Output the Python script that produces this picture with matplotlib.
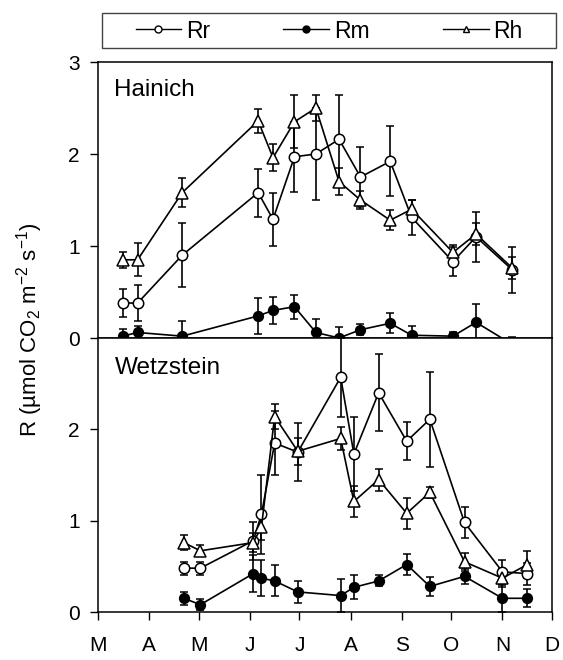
import matplotlib
matplotlib.use("Agg")
import matplotlib.pyplot as plt
from matplotlib.lines import Line2D
from matplotlib.patches import Rectangle

plt.rcParams['font.family'] = ['Liberation Sans', 'DejaVu Sans']
plt.rcParams['mathtext.fontset'] = 'custom'
plt.rcParams['mathtext.rm'] = 'Liberation Sans'

# ---- data (day of year) ----
month_days = [60, 91, 121, 152, 182, 213, 244, 274, 305, 335]
month_labels = ['M', 'A', 'M', 'J', 'J', 'A', 'S', 'O', 'N', 'D']

hai_day = [75, 84, 111, 157, 166, 179, 192, 206, 219, 237, 250, 275, 289, 311]
hai_rr = [0.38, 0.38, 0.90, 1.58, 1.29, 1.97, 2.00, 2.16, 1.75, 1.92, 1.31, 0.83, 1.10, 0.74]
hai_rr_err = [0.155, 0.195, 0.35, 0.26, 0.29, 0.38, 0.50, 0.48, 0.33, 0.38, 0.19, 0.16, 0.27, 0.25]
hai_rm = [0.02, 0.06, 0.02, 0.24, 0.30, 0.34, 0.06, 0.00, 0.09, 0.16, 0.03, 0.02, 0.17, -0.07]
hai_rm_err = [0.08, 0.07, 0.16, 0.20, 0.15, 0.13, 0.15, 0.12, 0.06, 0.11, 0.10, 0.05, 0.20, 0.08]
hai_rh = [0.85, 0.85, 1.58, 2.36, 1.96, 2.35, 2.50, 1.70, 1.50, 1.28, 1.40, 0.93, 1.13, 0.76]
hai_rh_err = [0.09, 0.18, 0.16, 0.13, 0.15, 0.29, 0.14, 0.15, 0.10, 0.11, 0.10, 0.08, 0.12, 0.12]

wet_day = [112, 122, 154, 159, 167, 181, 207, 215, 230, 247, 261, 282, 305, 320]
wet_rr = [0.48, 0.48, 0.78, 1.07, 1.85, 1.75, 2.57, 1.73, 2.40, 1.87, 2.11, 0.98, 0.44, 0.42]
wet_rr_err = [0.07, 0.07, 0.21, 0.43, 0.35, 0.32, 0.43, 0.40, 0.42, 0.21, 0.52, 0.17, 0.13, 0.12]
wet_rm = [0.15, 0.08, 0.42, 0.37, 0.34, 0.22, 0.18, 0.27, 0.34, 0.52, 0.28, 0.39, 0.15, 0.15]
wet_rm_err = [0.07, 0.06, 0.20, 0.20, 0.17, 0.12, 0.18, 0.13, 0.06, 0.11, 0.10, 0.08, 0.15, 0.10]
wet_rh = [0.76, 0.67, 0.76, 0.93, 2.14, 1.76, 1.90, 1.21, 1.45, 1.08, 1.31, 0.55, 0.37, 0.52]
wet_rh_err = [0.08, 0.06, 0.10, 0.14, 0.14, 0.15, 0.13, 0.17, 0.12, 0.17, 0.06, 0.10, 0.10, 0.15]

series_labels = ['Rr', 'Rm', 'Rh']

FS = 15
fig = plt.figure(figsize=(5.63, 6.6), dpi=100)
ax1 = fig.add_axes([98/563, 1-338/660, 454/563, 276/660])
ax2 = fig.add_axes([98/563, 1-612/660, 454/563, 274/660])

styles = [
    dict(marker='o', mfc='white', mec='black', ms=7.5),
    dict(marker='o', mfc='black', mec='black', ms=7),
    dict(marker='^', mfc='white', mec='black', ms=8),
]

def draw(ax, day, vals, errs):
    for v, e, st in zip(vals, errs, styles):
        ax.errorbar(day, v, yerr=e, color='black', lw=1.2, elinewidth=1.2,
                    capsize=3, capthick=1.2, mew=1.1, **st)

draw(ax1, hai_day, [hai_rr, hai_rm, hai_rh], [hai_rr_err, hai_rm_err, hai_rh_err])
draw(ax2, wet_day, [wet_rr, wet_rm, wet_rh], [wet_rr_err, wet_rm_err, wet_rh_err])

for ax in (ax1, ax2):
    ax.set_xlim(month_days[0], month_days[-1])
    ax.set_ylim(0, 3)
    for s in ax.spines.values():
        s.set_linewidth(1.1)
    ax.tick_params(axis='y', direction='out', length=6, width=1, pad=7, labelsize=FS)

ax1.set_yticks([0, 1, 2, 3])
ax2.set_yticks([0, 1, 2])
ax1.set_xticks(month_days)
ax1.tick_params(axis='x', bottom=False, labelbottom=False)
ax2.set_xticks(month_days)
ax2.set_xticklabels(month_labels)
ax2.tick_params(axis='x', direction='out', length=6, width=1, pad=11, labelsize=FS)

ax1.text(0.035, 0.90, 'Hainich', transform=ax1.transAxes, fontsize=17.5,
         ha='left', va='center')
ax2.text(0.038, 0.89, 'Wetzstein', transform=ax2.transAxes, fontsize=17.5,
         ha='left', va='center')

fig.text(30/563, 1-330/660,
         r'R (µmol CO$_\mathregular{2}$ m$^\mathregular{-2}$ s$^\mathregular{-1}$)',
         rotation=90, ha='center', va='center', fontsize=16)

# legend
handles = [Line2D([], [], color='black', lw=1, marker=st['marker'],
                  mfc=st['mfc'], mec='black', ms=5) for st in styles]
fig.add_artist(Rectangle((102/563, 1-48.3/660), 454/563, 35/660,
                         transform=fig.transFigure, fill=False,
                         edgecolor='#444444', lw=1))
fig.legend(handles, series_labels, ncol=3, loc='center',
           bbox_to_anchor=(329/563, 1-31/660), frameon=False, fontsize=16.5,
           handlelength=2.0, handletextpad=0.2, columnspacing=3.2)

fig.savefig('out.png', dpi=100)
